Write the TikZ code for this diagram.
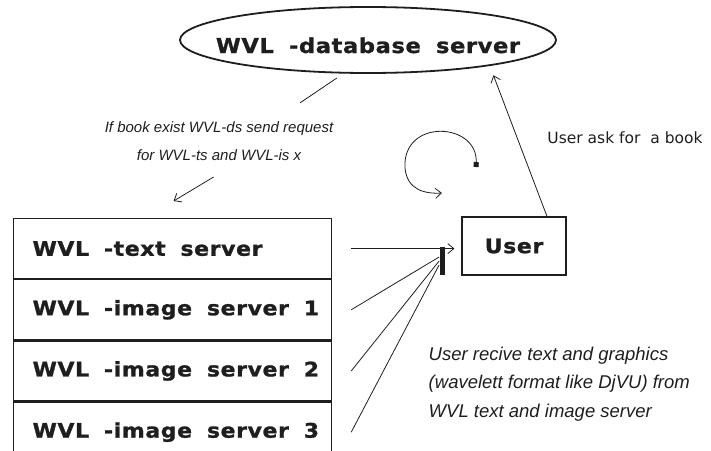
\documentclass[tikz,border=0pt]{standalone}
\usepackage{fontspec}
\setmainfont{DejaVu Sans}
\newfontfamily\srvfont[LetterSpace=3,WordSpace=1.8,FakeStretch=1.1,FakeBold=1.2]{DejaVu Sans Bold}
\newfontfamily\itfont{Liberation Sans Italic}
\newfontfamily\upfont{DejaVu Sans}
\newcommand\srvtext[1]{\makebox[280pt][l]{#1}}
\usetikzlibrary{shapes.geometric,positioning,calc,arrows.meta}
\definecolor{ink}{HTML}{1E1E1E}

\begin{document}
\begin{tikzpicture}[x=1pt,y=-1pt, line width=0.8pt, draw=ink, text=ink,
  >={Straight Barb[length=6pt,width=10pt]},
  srv/.style={draw, line width=1.2pt, rectangle, minimum width=318pt, minimum height=60pt,
    inner xsep=19pt, font=\srvfont\fontsize{20}{24}\selectfont}]
\useasboundingbox (0,0) rectangle (711,450);
\clip (0,0) rectangle (711,450);

% database server
\node[ellipse, draw, line width=1.8pt, minimum width=376pt, minimum height=66pt, inner sep=0pt,
  text height=26pt, text depth=0pt, font=\srvfont\fontsize{20.5}{24}\selectfont] (db) at (368,40)
  {\makebox[0pt]{WVL -database server}};

% server stack
\node[srv, anchor=north west] (srv0) at (13,218) {\srvtext{WVL -text server}};
\node[srv, below=0pt of srv0] (srv1) {\srvtext{WVL -image server 1}};
\node[srv, below=0pt of srv1] (srv2) {\srvtext{WVL -image server 2}};
\node[srv, below=0pt of srv2] (srv3) {\srvtext{WVL -image server 3}};

\node[draw, line width=1.2pt, minimum width=104pt, minimum height=58pt,
  font=\srvfont\fontsize{20}{24}\selectfont] (usr) at (514,246) {User};
\node[fill=ink, minimum width=5pt, minimum height=28pt, inner sep=0pt] (bar) at (442,261) {};

% labels
\node[font=\itfont\fontsize{15}{28}\selectfont, align=center] (req) at (219,141)
  {If book exist WVL-ds send request\\for WVL-ts and WVL-is x};
\node[font=\upfont\fontsize{15.5}{18}\selectfont] (ask) at (625,138) {User ask for~ a book};
\node[font=\itfont\fontsize{18.5}{28.5}\selectfont, align=left, anchor=west] (recv) at (425,384)
  {User recive text and graphics\\(wavelett format like DjVU) from\\WVL text and image server};

% connectors
\draw ($(db.south)+(-31,4)$) -- ++(-37,25);
\draw[->] ($(srv0.north)+(41,-41)$) -- ($(srv0.north)+(1,-17)$);
\draw[->, shorten >=10pt] ([xshift=33pt]usr.north) -- (db.-12);
\coordinate (loop0) at (476,167);
\coordinate (loop1) at (442,193);
\draw[{Square[length=5pt,width=5pt]}->] (loop0) .. controls (478,122) and (402,118) .. (405,168)
  .. controls (407,190) and (425,194) .. (loop1);

\draw[->] ([xshift=19pt]srv0.east) -- ($(usr.west |- srv0.east)+(-7,0)$);
\draw ([xshift=19pt]srv1.east) -- ([yshift=4pt]bar.west);
\draw ([xshift=19pt]srv2.east) -- (bar.west);
\draw ([xshift=19pt]srv3.east) -- ([yshift=-4pt]bar.west);

\end{tikzpicture}
\end{document}
